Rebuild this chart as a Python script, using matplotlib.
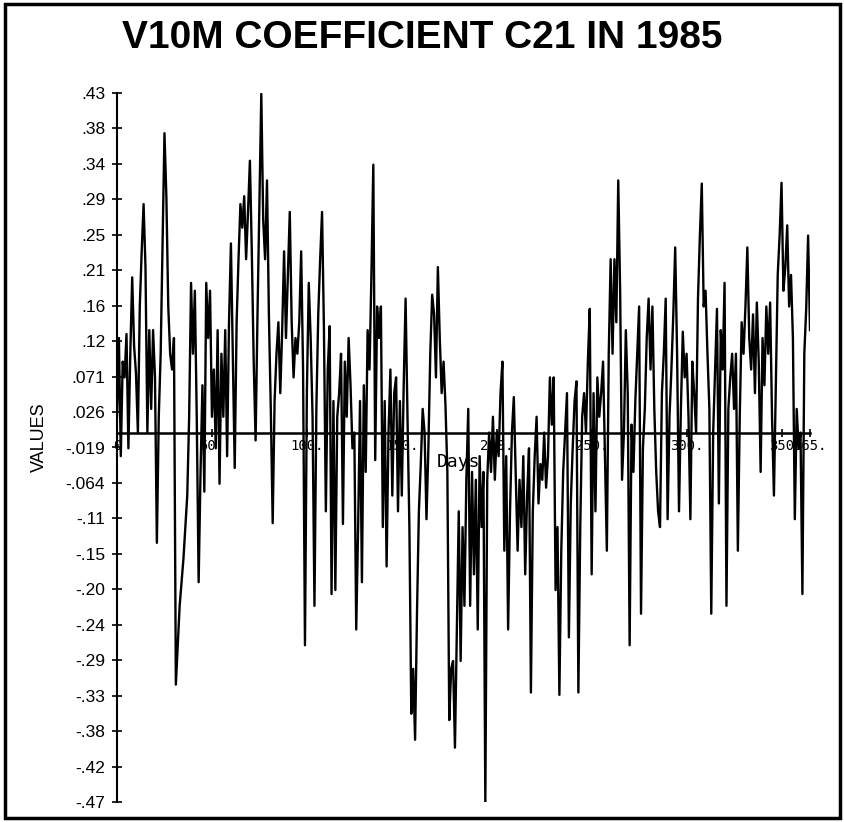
import matplotlib
matplotlib.use('Agg')
import matplotlib.pyplot as plt
from matplotlib.patches import Rectangle
import numpy as np

# V10M coefficient C21, daily values (day 0 .. 365)
c21_values = [
    0.02, 0.12, -0.03, 0.09, 0.07, 0.125, -0.02, 0.10, 0.197, 0.11,
    0.075, 0.0, 0.16, 0.23, 0.29, 0.21, 0.0, 0.13, 0.03, 0.13,
    0.07, -0.14, 0.02, 0.10, 0.24, 0.38, 0.30, 0.16, 0.10, 0.08,
    0.12, -0.32, -0.27, -0.22, -0.19, -0.16, -0.12, -0.08, 0.02, 0.19,
    0.10, 0.18, 0.02, -0.19, -0.05, 0.06, -0.075, 0.19, 0.12, 0.18,
    0.02, 0.08, -0.02, 0.13, -0.065, 0.10, 0.02, 0.13, -0.03, 0.14,
    0.24, 0.10, -0.045, 0.14, 0.22, 0.29, 0.26, 0.30, 0.22, 0.28,
    0.345, 0.23, 0.09, -0.01, 0.15, 0.29, 0.43, 0.27, 0.22, 0.32,
    0.15, 0.03, -0.115, 0.04, 0.10, 0.14, 0.05, 0.13, 0.23, 0.12,
    0.20, 0.28, 0.14, 0.07, 0.12, 0.10, 0.14, 0.23, 0.08, -0.27,
    0.05, 0.19, 0.12, 0.02, -0.22, 0.03, 0.15, 0.22, 0.28, 0.13,
    -0.10, 0.08, 0.135, -0.205, 0.04, -0.20, 0.02, 0.05, 0.10, -0.116,
    0.09, 0.02, 0.12, 0.06, -0.02, 0.0, -0.25, -0.12, 0.04, -0.19,
    0.06, -0.05, 0.13, 0.08, 0.20, 0.34, -0.035, 0.16, 0.12, 0.16,
    -0.12, 0.04, -0.17, 0.0, 0.08, -0.08, 0.05, 0.07, -0.10, 0.04,
    -0.08, 0.06, 0.17, 0.02, -0.12, -0.357, -0.30, -0.39, -0.23, -0.10,
    -0.04, 0.03, 0.0, -0.11, -0.02, 0.10, 0.175, 0.15, 0.07, 0.21,
    0.12, 0.05, 0.09, 0.035, -0.05, -0.365, -0.30, -0.29, -0.40, -0.25,
    -0.10, -0.29, -0.12, -0.22, -0.06, 0.03, -0.22, -0.05, -0.18, -0.06,
    -0.25, -0.03, -0.12, -0.05, -0.47, -0.06, 0.0, -0.05, 0.02, -0.06,
    0.0, -0.03, 0.05, 0.09, -0.15, -0.03, -0.25, -0.10, 0.0, 0.045,
    -0.05, -0.15, -0.06, -0.12, -0.03, -0.18, -0.08, -0.02, -0.33, -0.10,
    -0.03, 0.02, -0.09, -0.04, -0.06, 0.0, -0.07, -0.03, 0.07, 0.01,
    0.07, -0.20, -0.12, -0.333, -0.15, -0.05, 0.0, 0.05, -0.26, -0.09,
    -0.02, 0.04, 0.065, -0.33, -0.12, 0.02, 0.05, 0.0, 0.09, 0.157,
    -0.18, 0.05, -0.10, 0.07, 0.02, 0.05, 0.09, -0.03, -0.15, 0.10,
    0.22, 0.10, 0.22, 0.14, 0.32, 0.18, -0.06, 0.0, 0.13, 0.05,
    -0.27, 0.01, -0.05, 0.04, 0.10, 0.16, -0.23, -0.02, 0.03, 0.12,
    0.17, 0.08, 0.16, 0.03, -0.05, -0.10, -0.12, 0.05, 0.10, 0.17,
    -0.11, 0.02, 0.08, 0.15, 0.235, 0.10, -0.10, 0.03, 0.128, 0.07,
    0.10, 0.02, -0.11, 0.09, 0.05, 0.0, 0.17, 0.25, 0.316, 0.16,
    0.18, 0.10, 0.03, -0.23, 0.0, 0.08, 0.157, -0.09, 0.13, 0.08,
    0.19, -0.22, 0.03, 0.07, 0.10, 0.03, 0.10, -0.15, 0.02, 0.14,
    0.10, 0.16, 0.235, 0.12, 0.08, 0.15, 0.05, 0.165, 0.09, -0.05,
    0.12, 0.06, 0.16, 0.10, 0.165, 0.02, -0.08, 0.06, 0.20, 0.25,
    0.317, 0.18, 0.21, 0.263, 0.16, 0.20, 0.12, -0.11, 0.03, -0.02,
    0.0, -0.205, 0.10, 0.157, 0.25, 0.13,
]
days = np.arange(len(c21_values))

y_ticks = np.linspace(-0.469, 0.431, 21)
y_labels = ['-.47', '-.42', '-.38', '-.33', '-.29', '-.24', '-.20', '-.15',
            '-.11', '-.064', '-.019', '.026', '.071', '.12', '.16', '.21',
            '.25', '.29', '.34', '.38', '.43']
x_ticks = [0, 50, 100, 150, 200, 250, 300, 350, 365]
x_labels = ['0', '50.', '100.', '150.', '200.', '250.', '300.', '350', '365.']

plt.rcParams['font.family'] = ['Liberation Sans', 'DejaVu Sans']

fig = plt.figure(figsize=(8.44, 8.22), dpi=100)
ax = fig.add_axes([117 / 844, 20 / 822, 693 / 844, 709 / 822])

ax.plot(days, c21_values, color='black', linewidth=1.7)

ax.set_xlim(0, 365)
ax.set_ylim(-0.469, 0.431)

# spines: y axis on the left, x axis running through zero
ax.spines['top'].set_visible(False)
ax.spines['right'].set_visible(False)
ax.spines['bottom'].set_position(('data', 0))
ax.spines['bottom'].set_linewidth(1.8)
ax.spines['left'].set_linewidth(1.5)

ax.set_yticks(y_ticks)
ax.set_yticklabels(y_labels, fontsize=12.5)
ax.tick_params(axis='y', direction='inout', length=7, width=1.2, pad=5)

ax.set_xticks(x_ticks)
ax.set_xticklabels(x_labels, fontsize=10, family='DejaVu Sans Mono')
ax.tick_params(axis='x', direction='inout', length=6, width=1.2, pad=2)

ax.set_ylabel('VALUES', fontsize=13)
ax.yaxis.set_label_coords(-0.1, 0.515)
fig.text(458 / 844, 1 - 462 / 822, 'Days', fontsize=13, family='DejaVu Sans Mono',
         ha='center', va='center')

fig.text(0.5, 1 - 38 / 822, 'V10M COEFFICIENT C21 IN 1985', fontsize=28,
         fontweight='bold', ha='center', va='center')

# frame round the whole picture
fig.patches.append(Rectangle((5 / 844, 4 / 822), 835 / 844, 814 / 822,
                             transform=fig.transFigure, fill=False,
                             edgecolor='black', linewidth=2.5))

plt.savefig('out.png', dpi=100)
